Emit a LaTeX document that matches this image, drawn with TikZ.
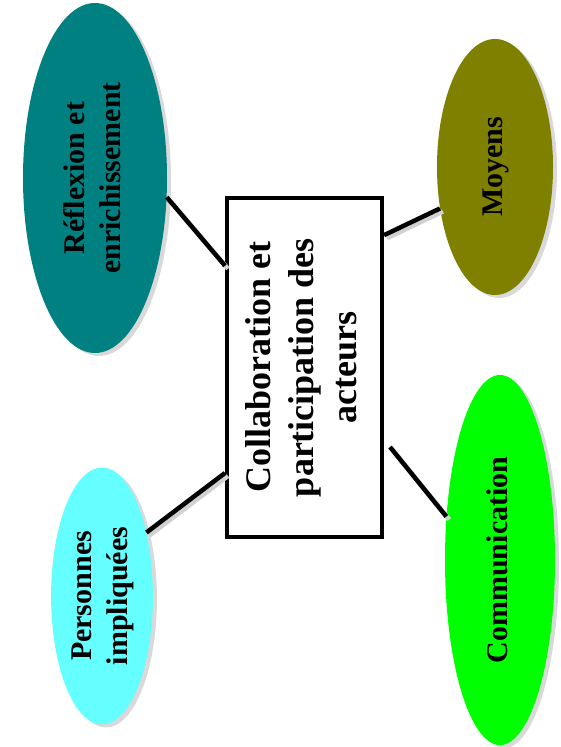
\documentclass[tikz,border=0pt]{standalone}
\usepackage{fontspec}
\setmainfont{Liberation Serif}
\usetikzlibrary{shapes.geometric,shadows}

\definecolor{reflexcol}{RGB}{0,128,128}
\definecolor{moyenscol}{RGB}{128,128,0}
\definecolor{personcol}{RGB}{102,255,255}
\definecolor{commcol}{RGB}{0,255,0}

\newcommand{\uptext}[1]{\rotatebox{90}{\begin{tabular}{@{}c@{}}#1\end{tabular}}}

\begin{document}
\begin{tikzpicture}[x=1pt,y=1pt,
    bubble/.style={ellipse,inner sep=0pt,font=\bfseries\fontsize{30}{36}\selectfont,
      drop shadow={shadow xshift=4pt,shadow yshift=-3pt,opacity=0.3}},
    centre/.style={rectangle,draw,line width=4pt,fill=white,inner sep=0pt,
      minimum width=155pt,minimum height=339pt,font=\bfseries\fontsize{36}{43}\selectfont},
    link/.style={line width=4.5pt,
      preaction={draw=black!18,line width=4.5pt,transform canvas={shift={(3pt,-3pt)}}}}]

\useasboundingbox (0,0) rectangle (560,747);

\node[centre] (acteurs) at (304.5,379.5) {\uptext{Collaboration et\\participation des\\acteurs}};

\node[bubble,fill=reflexcol,minimum width=144pt,minimum height=350pt] (reflexion) at (95,569) {\uptext{Réflexion et\\enrichissement}};
\node[bubble,fill=moyenscol,minimum width=116pt,minimum height=256pt] (moyens) at (495,580) {\uptext{Moyens}};
\node[bubble,fill=personcol,minimum width=96pt,minimum height=257pt] (personnes) at (102,151) {\uptext{Personnes\\impliquées}};
\node[bubble,fill=commcol,minimum width=110pt,minimum height=370pt] (comm) at (500,187) {\uptext{Communication}};

\draw[link] (reflexion.-15) -- (acteurs.128);
\draw[link] (moyens.217) -- (acteurs.59);
\draw[link] (personnes.55) -- (acteurs.233);
\draw[link] (comm.141) -- ([xshift=6pt]acteurs.-45);
\end{tikzpicture}
\end{document}
